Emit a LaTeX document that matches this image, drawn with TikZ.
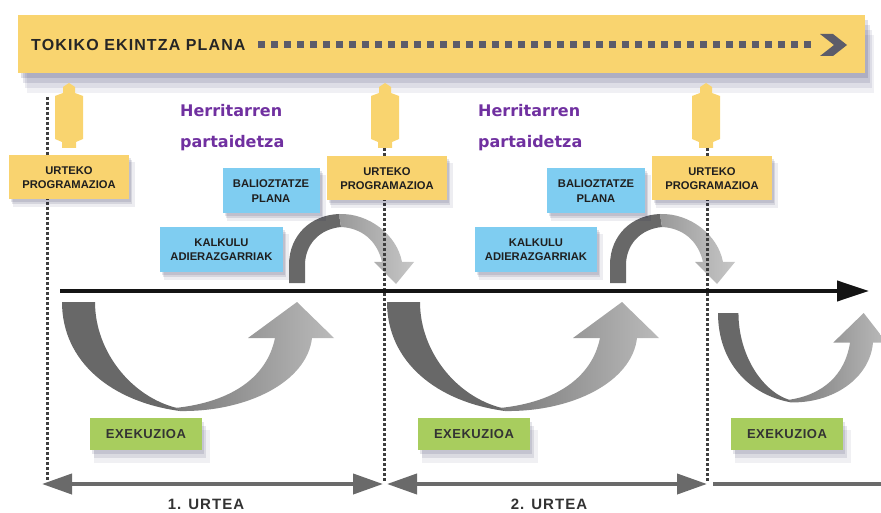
\documentclass[tikz,border=0pt]{standalone}
\usepackage{fontspec}
\setmainfont{Liberation Sans}
\newfontfamily\dvfont{DejaVu Sans}
\newfontfamily\spacedfont[LetterSpace=7]{Liberation Sans}
\newfontfamily\spacedfontb[LetterSpace=4]{Liberation Sans}
\usetikzlibrary{arrows.meta,shadows}
\definecolor{bannerfill}{HTML}{F9D46F}
\definecolor{boxyellow}{HTML}{F9D36F}
\definecolor{boxblue}{HTML}{7FCDF1}
\definecolor{boxgreen}{HTML}{A8CD5E}
\definecolor{purpletext}{HTML}{7030A0}
\definecolor{darkarc}{HTML}{686868}
\definecolor{dashgrey}{HTML}{5C5C6A}
\definecolor{dotgrey}{HTML}{3E3E3E}
\definecolor{dimgrey}{HTML}{6A6A6A}
\tikzset{
  softshadow/.style={
    drop shadow={shadow xshift=5pt,shadow yshift=-7pt,shadow scale=1.02,opacity=.07,fill=black!80!blue},
    drop shadow={shadow xshift=3pt,shadow yshift=-5pt,opacity=.10,fill=black!80!blue},
    drop shadow={shadow xshift=2pt,shadow yshift=-3pt,opacity=.10,fill=black!80!blue}},
  bigshadow/.style={
    drop shadow={shadow xshift=6pt,shadow yshift=-12pt,shadow scale=1.04,opacity=.06,fill=black!80!blue},
    drop shadow={shadow xshift=4pt,shadow yshift=-8pt,opacity=.09,fill=black!80!blue},
    drop shadow={shadow xshift=2pt,shadow yshift=-4pt,opacity=.10,fill=black!80!blue}},
  bannershadow/.style={
    drop shadow={shadow xshift=9pt,shadow yshift=-20pt,opacity=.06,fill=black!75!blue},
    drop shadow={shadow xshift=7pt,shadow yshift=-15pt,opacity=.08,fill=black!75!blue},
    drop shadow={shadow xshift=5pt,shadow yshift=-10pt,opacity=.10,fill=black!75!blue},
    drop shadow={shadow xshift=3pt,shadow yshift=-5pt,opacity=.12,fill=black!75!blue}},
  upblock/.pic={
    \fill[bannerfill] (0,0) -- (6,4) -- (6,10) -- (14,13) -- (14,56) -- (7,59) -- (7,65)
      -- (-7,65) -- (-7,59) -- (-14,56) -- (-14,13) -- (-6,10) -- (-6,4) -- cycle;},
  uarrow/.pic={
    \fill[darkarc] (0,0) -- (33,0) .. controls (33,50) and (70,95) .. (115,106)
      -- (118,109) .. controls (50,100) and (0,60) .. (0,0) -- cycle;
    \shade[left color=black!52,right color=black!27]
      (113,106) .. controls (170,100) and (205,75) .. (213,36) -- (186,36) -- (235,0)
      -- (272,36) -- (250,36) .. controls (245,80) and (185,110) .. (118,109) -- cycle;},
  smallloop/.pic={
    \fill[darkarc] (0,0) -- (0,-18) .. controls (0,-48) and (22,-68) .. (50,-69)
      -- (52,-56) .. controls (30,-54) and (16,-38) .. (16,-18) -- (16,0) -- cycle;
    \shade[left color=black!40,right color=black!22]
      (50,-69) .. controls (80,-70) and (108,-48) .. (113,-21) -- (125,-21) -- (107,1)
      -- (85,-21) -- (93,-21) .. controls (88,-43) and (72,-55) .. (52,-56) -- cycle;}
}
\begin{document}
\begin{tikzpicture}[x=1pt,y=-1pt,
  boxtext/.style={font=\fontsize{11.2}{14.5}\selectfont\bfseries,text=black!88,align=center,inner sep=0pt},
  yelbox/.style={boxtext,fill=boxyellow,minimum width=120pt,minimum height=44pt,softshadow},
  bluebox/.style={boxtext,fill=boxblue,minimum height=45pt,softshadow},
  greenbox/.style={font=\spacedfontb\fontsize{13}{16}\selectfont\bfseries,text=black!80,fill=boxgreen,
    minimum width=112pt,minimum height=32pt,inner sep=0pt,bigshadow},
  dotline/.style={draw=dotgrey,line width=3pt,dash pattern=on 3pt off 2pt},
  axisline/.style={draw=black!92,line width=4pt,-{Triangle[length=32pt,width=20pt]}},
  dimline/.style={draw=dimgrey,line width=4pt,
    {Triangle[length=30pt,width=20pt]}-{Triangle[length=30pt,width=20pt]}},
  plainline/.style={draw=dimgrey,line width=4pt},
  purplelabel/.style={font=\dvfont\fontsize{16}{20}\selectfont\bfseries,text=purpletext,inner sep=0pt,anchor=base west},
  yearlabel/.style={font=\spacedfont\fontsize{15}{18}\selectfont\bfseries,text=black!80,inner sep=0pt}
]
\useasboundingbox (0,0) rectangle (881,513);

% banner
\node[fill=bannerfill,minimum width=847pt,minimum height=58pt,inner sep=0pt,bannershadow] (plan) at (441.5,44) {};
\node[font=\spacedfont\fontsize{16}{18}\selectfont\bfseries,text=black!85,anchor=west,inner sep=0pt] (title) at (31,45) {TOKIKO EKINTZA PLANA};
\coordinate (dashA) at (258,45);
\coordinate (dashB) at (815,45);
\draw[dashgrey,line width=7pt,dash pattern=on 7pt off 6pt] (dashA) -- (dashB);
\fill[dashgrey] (820,34) -- (833,34) -- (847,45) -- (833,56) -- (820,56) -- (834,45) -- cycle;

% up block arrows
\pic at (69,83) {upblock};
\pic at (385,83) {upblock};
\pic at (706,83) {upblock};

% loop arrows
\pic at (289,283) {smallloop};
\pic at (610,283) {smallloop};
\pic at (62,302) {uarrow};
\pic at (387,302) {uarrow};
\pic[xscale=0.62,yscale=0.82] at (718,313) {uarrow};

% dotted lines
\coordinate (d1a) at (47,97);  \coordinate (d1b) at (47,482);
\coordinate (d2a) at (384,148); \coordinate (d2b) at (384,482);
\coordinate (d3a) at (707,148); \coordinate (d3b) at (707,482);
\draw[dotline] (d1a) -- (d1b);
\draw[dotline] (d2a) -- (d2b);
\draw[dotline] (d3a) -- (d3b);

% time axis
\coordinate (axA) at (60,291);
\coordinate (axB) at (869,291);
\draw[axisline] (axA) -- (axB);

% year spans
\coordinate (y1a) at (42,484); \coordinate (y1b) at (383,484);
\coordinate (y2a) at (387,484); \coordinate (y2b) at (707,484);
\coordinate (y3a) at (713,484); \coordinate (y3b) at (881,484);
\draw[dimline] (y1a) -- (y1b);
\draw[dimline] (y2a) -- (y2b);
\draw[plainline] (y3a) -- (y3b);

% boxes
\node[yelbox] (prog1) at (69,177.5) {URTEKO\\PROGRAMAZIOA};
\node[yelbox] (prog2) at (387,178.5) {URTEKO\\PROGRAMAZIOA};
\node[yelbox] (prog3) at (712,178.5) {URTEKO\\PROGRAMAZIOA};
\node[bluebox,minimum width=97pt] (bal1) at (271,191) {BALIOZTATZE\\PLANA};
\node[bluebox,minimum width=98pt] (bal2) at (596,191) {BALIOZTATZE\\PLANA};
\node[bluebox,minimum width=123pt] (kal1) at (221.5,249.5) {KALKULU\\ADIERAZGARRIAK};
\node[bluebox,minimum width=122pt] (kal2) at (536,249.5) {KALKULU\\ADIERAZGARRIAK};
\node[greenbox] (exe1) at (146,434) {EXEKUZIOA};
\node[greenbox] (exe2) at (474,434) {EXEKUZIOA};
\node[greenbox] (exe3) at (787,434) {EXEKUZIOA};

% labels
\node[purplelabel] (her1) at (180,117) {Herritarren};
\node[purplelabel] (par1) at (180,148) {partaidetza};
\node[purplelabel] (her2) at (478,117) {Herritarren};
\node[purplelabel] (par2) at (478,148) {partaidetza};
\node[yearlabel] (year1) at (206,504) {1. URTEA};
\node[yearlabel] (year2) at (549,504) {2. URTEA};
\end{tikzpicture}
\end{document}
